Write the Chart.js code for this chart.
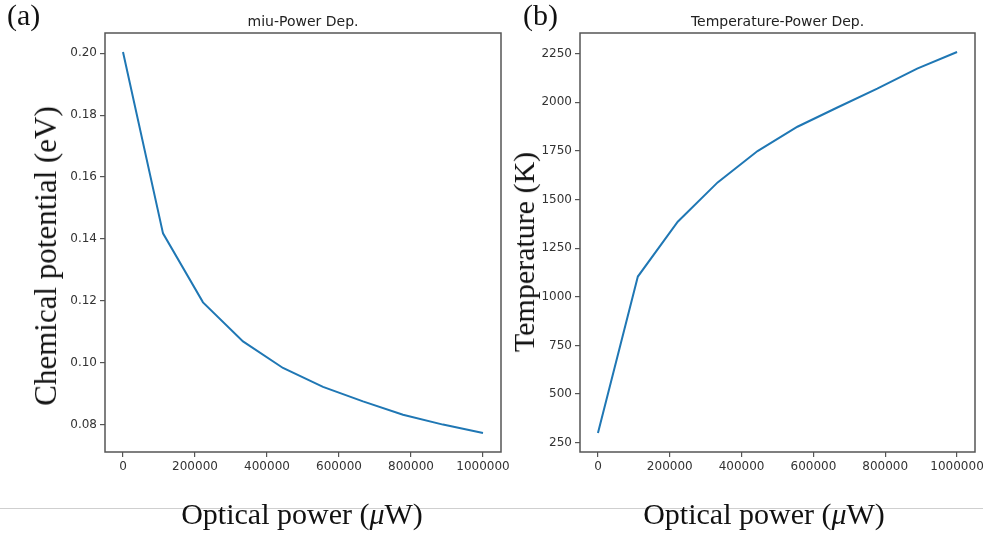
<!DOCTYPE html>
<html>
<head>
<meta charset="utf-8">
<script src="https://cdn.jsdelivr.net/npm/chart.js@4.4.1/dist/chart.umd.min.js"></script>
<style>
  html, body { margin: 0; padding: 0; background: #fff; overflow: hidden; }
  #wrap { position: relative; width: 983px; height: 533px; }
  canvas { position: absolute; top: 0; }
  .serif { position: absolute; font-family: "Liberation Serif", "Times New Roman", serif; font-size: 30px; line-height: 30px; color: #111; white-space: nowrap; }
  .rot { transform: translate(-50%, -50%) rotate(-90deg); }
  .xlab { transform: translateX(-50%); }
  #rule { position: absolute; left: 0; top: 508px; width: 983px; height: 1px; background: #cfcfcf; }
</style>
</head>
<body>
<div id="wrap">
  <canvas id="chartA" width="520" height="533" style="left:0px"></canvas>
  <canvas id="chartB" width="520" height="533" style="left:470px"></canvas>
  <div id="rule"></div>
  <div class="serif" style="left:7px; top:0px">(a)</div>
  <div class="serif" style="left:523px; top:0px">(b)</div>
  <div class="serif rot" style="left:46px; top:256px; font-size:31px">Chemical potential (eV)</div>
  <div class="serif rot" style="left:524px; top:252px">Temperature (K)</div>
  <div class="serif xlab" style="left:302px; top:499px">Optical power (<i>μ</i>W)</div>
  <div class="serif xlab" style="left:764px; top:499px">Optical power (<i>μ</i>W)</div>
</div>
<script>
// optical power in uW (same x for both panels)
var powerUW = [0, 111111, 222222, 333333, 444444, 555556, 666667, 777778, 888889, 1000000];
// (a) chemical potential, eV
var chemPot = [0.2004, 0.1418, 0.1195, 0.1069, 0.0983, 0.0922, 0.0875, 0.0832, 0.0800, 0.0773];
// (b) temperature, K
var temperature = [300, 1104, 1386, 1588, 1749, 1874, 1973, 2070, 2173, 2258];

var xTicks = [0, 200000, 400000, 600000, 800000, 1000000];
var chemTicks = [0.08, 0.10, 0.12, 0.14, 0.16, 0.18, 0.20];
var tempTicks = [250, 500, 750, 1000, 1250, 1500, 1750, 2000, 2250];

var titleA = "miu-Power Dep.";
var titleB = "Temperature-Power Dep.";

var tickFont = { family: "DejaVu Sans", size: 12 };

// matplotlib style full box round the plot area
var boxPlugin = {
    id: "box",
    afterDatasetsDraw: function (chart) {
        var a = chart.chartArea;
        var ctx = chart.ctx;
        ctx.save();
        ctx.strokeStyle = "#555";
        ctx.lineWidth = 1.5;
        ctx.strokeRect(a.left, a.top, a.right - a.left, a.bottom - a.top);
        ctx.restore();
    }
};

function padRange(vals) {
    var lo = Math.min.apply(null, vals);
    var hi = Math.max.apply(null, vals);
    var m = (hi - lo) * 0.05;
    return [lo - m, hi + m];
}

function makePanel(id, ys, yTicks, yFmt, title, yWidth, padRight) {
    var xr = padRange(powerUW);
    var yr = padRange(ys);
    var pts = [];
    for (var i = 0; i < powerUW.length; i++) {
        pts.push({ x: powerUW[i], y: ys[i] });
    }
    return new Chart(document.getElementById(id).getContext("2d"), {
        type: "line",
        data: {
            datasets: [{
                data: pts,
                borderColor: "#1f77b4",
                borderWidth: 2,
                pointRadius: 0,
                tension: 0,
                fill: false
            }]
        },
        options: {
            responsive: false,
            animation: false,
            layout: { padding: { left: 0, right: padRight, top: 0, bottom: 0 } },
            plugins: {
                legend: { display: false },
                tooltip: { enabled: false },
                title: {
                    display: true,
                    text: title,
                    fullSize: false,
                    color: "#222",
                    font: { family: "DejaVu Sans", size: 14, weight: "normal" },
                    padding: { top: 13.6, bottom: 2.6 }
                }
            },
            scales: {
                x: {
                    type: "linear",
                    min: xr[0],
                    max: xr[1],
                    afterBuildTicks: function (s) {
                        s.ticks = xTicks.map(function (v) { return { value: v }; });
                    },
                    afterFit: function (s) { s.height = 81; },
                    grid: { display: true, drawOnChartArea: false, drawTicks: true, tickLength: 5, color: "#555", lineWidth: 1.2 },
                    border: { display: false },
                    ticks: {
                        font: tickFont,
                        color: "#333",
                        padding: 3,
                        maxRotation: 0,
                        autoSkip: false,
                        callback: function (v) { return String(v); }
                    }
                },
                y: {
                    type: "linear",
                    min: yr[0],
                    max: yr[1],
                    afterBuildTicks: function (s) {
                        s.ticks = yTicks.map(function (v) { return { value: v }; });
                    },
                    afterFit: function (s) { s.width = yWidth; },
                    grid: { display: true, drawOnChartArea: false, drawTicks: true, tickLength: 5, color: "#555", lineWidth: 1.2 },
                    border: { display: false },
                    ticks: {
                        font: tickFont,
                        color: "#333",
                        padding: 3,
                        autoSkip: false,
                        callback: yFmt
                    }
                }
            }
        },
        plugins: [boxPlugin]
    });
}

makePanel("chartA", chemPot, chemTicks, function (v) { return v.toFixed(2); }, titleA, 105, 19);
makePanel("chartB", temperature, tempTicks, function (v) { return String(v); }, titleB, 110, 15);
</script>
</body>
</html>
